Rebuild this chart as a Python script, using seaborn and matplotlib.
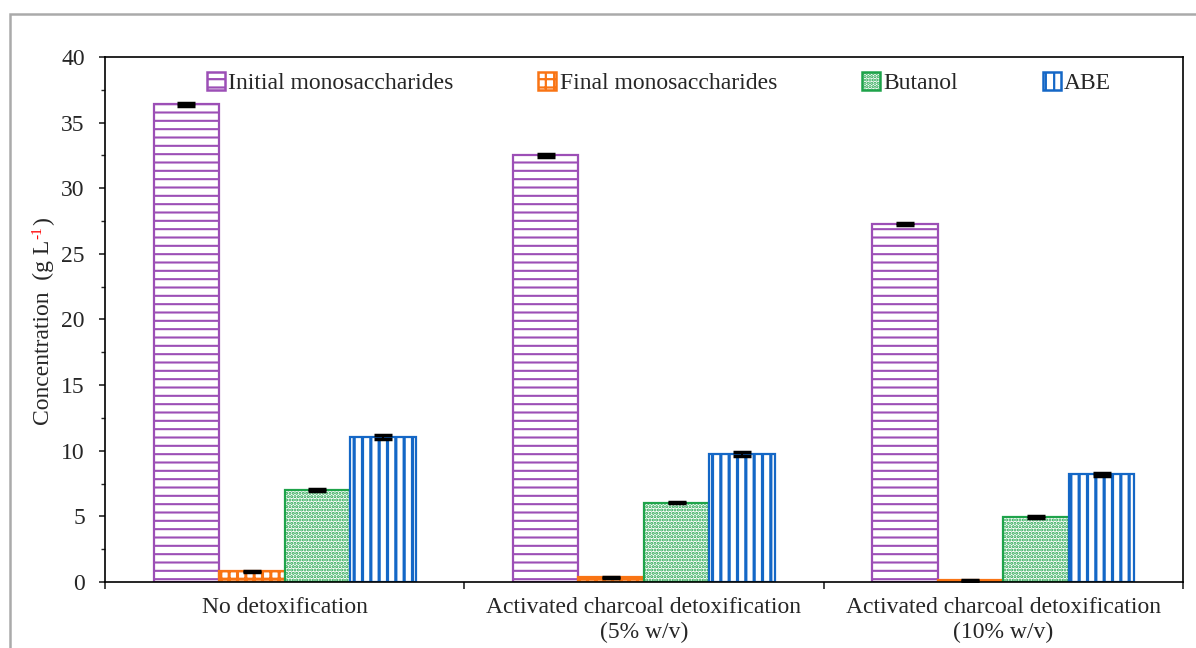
import numpy as np
import pandas as pd
import matplotlib
matplotlib.use("Agg")
import matplotlib.pyplot as plt
from matplotlib.patches import Patch, Rectangle
import seaborn as sns

# data
treatments = [
    "No detoxification",
    "Activated charcoal detoxification\n(5% w/v)",
    "Activated charcoal detoxification\n(10% w/v)",
]
series = ["Initial monosaccharides", "Final monosaccharides", "Butanol", "ABE"]

initial_mono = [36.4, 32.5, 27.3]
final_mono   = [0.80, 0.35, 0.12]
butanol      = [7.0, 6.05, 4.95]
abe          = [11.05, 9.75, 8.2]

initial_err = [0.10, 0.10, 0.08]
final_err   = [0.05, 0.04, 0.03]
butanol_err = [0.08, 0.07, 0.08]
abe_err     = [0.12, 0.12, 0.12]

# style per series
COLORS   = ["#9c4fb6", "#f97414", "#1ea34a", "#1467c6"]
HATCHES  = ["--", "++", ".....", "||"]
HATCH_LW = [1.5, 2.2, 1.5, 2.3]
FS = 17

plt.rcParams["hatch.linewidth"] = 1.6

df = pd.DataFrame({
    "Treatment": treatments * 4,
    "Series": np.repeat(series, 3),
    "Value": initial_mono + final_mono + butanol + abe,
})
errors = [initial_err, final_err, butanol_err, abe_err]

sns.set_style("ticks")
plt.rcParams["font.family"] = ["Liberation Serif", "DejaVu Serif"]

fig = plt.figure(figsize=(11.96, 6.48), dpi=100)
ax = fig.add_axes([0.0878, 0.1019, 0.9012, 0.8101])

sns.barplot(
    data=df, x="Treatment", y="Value", hue="Series",
    order=treatments, hue_order=series, errorbar=None,
    width=0.73, ax=ax, legend=False,
)

for cont, color, hatch, hlw, err in zip(ax.containers, COLORS, HATCHES, HATCH_LW, errors):
    xs, ys = [], []
    for bar in cont:
        bar.set_facecolor("white")
        bar.set_edgecolor(color)
        bar.set_hatch(hatch)
        if hasattr(bar, "set_hatch_linewidth"):
            bar.set_hatch_linewidth(hlw)
        bar.set_linewidth(1.6)
        xs.append(bar.get_x() + bar.get_width() / 2)
        ys.append(bar.get_height())
    ax.errorbar(xs, ys, yerr=err, fmt="none", ecolor="black",
                elinewidth=1.5, capsize=6.5, capthick=2.5, zorder=5)

# axes
ax.set_xlim(-0.5, 2.5)
ax.set_ylim(0, 40)
ax.set_yticks(np.arange(0, 41, 5))
ax.set_yticks(np.arange(0, 40.1, 2.5), minor=True)
ax.set_xticks([-0.5, 0.5, 1.5, 2.5])
ax.set_xticklabels([])
ax.set_xticks([0, 1, 2], minor=True)
ax.set_xticklabels(treatments, minor=True, fontsize=FS, linespacing=1.25)
ax.tick_params(axis="x", which="minor", length=0, pad=11)
ax.tick_params(axis="x", which="major", length=5, width=1.2, direction="out")
ax.tick_params(axis="y", which="major", length=4.5, width=1.2, direction="out",
               labelsize=FS, pad=10)
ax.tick_params(axis="y", which="minor", length=3, width=1.0, direction="out")
ax.set_xlabel("")
ax.set_ylabel("")
for sp in ax.spines.values():
    sp.set_visible(True)
    sp.set_linewidth(1.2)
    sp.set_color("black")

# legend
handles = []
for c, h, hlw, s in zip(COLORS, HATCHES, HATCH_LW, series):
    p = Patch(facecolor="white", edgecolor=c, hatch=h, linewidth=1.8, label=s)
    handles.append(p)
ax.legend(handles=handles, loc="center", bbox_to_anchor=(0.514, 0.95),
          ncol=4, frameon=False, fontsize=FS, handlelength=0.75,
          handleheight=0.75, handletextpad=0.15, columnspacing=3.6)

# y label with red superscript
fig.canvas.draw()
renderer = fig.canvas.get_renderer()
lab_x, lab_y = 0.041, 0.344
common = dict(rotation=90, rotation_mode="anchor", ha="left", va="baseline")
t1 = fig.text(lab_x, lab_y, "Concentration  (g L", fontsize=FS, **common)
bb = t1.get_window_extent(renderer)
y_next = bb.y1 / fig.bbox.height
t2 = fig.text(lab_x - 8 / fig.bbox.width, y_next + 1 / fig.bbox.height, "-1",
              fontsize=11, color="red", **common)
bb2 = t2.get_window_extent(renderer)
fig.text(lab_x, bb2.y1 / fig.bbox.height + 1 / fig.bbox.height, ")",
         fontsize=FS, **common)

# grey frame around the figure
fig.patches.append(Rectangle((10 / 1196, -0.1), 1.2, (648 - 14) / 648 + 0.1,
                             transform=fig.transFigure, fill=False,
                             edgecolor="#aaaaaa", linewidth=1.8))

fig.savefig("out.png", dpi=100)
